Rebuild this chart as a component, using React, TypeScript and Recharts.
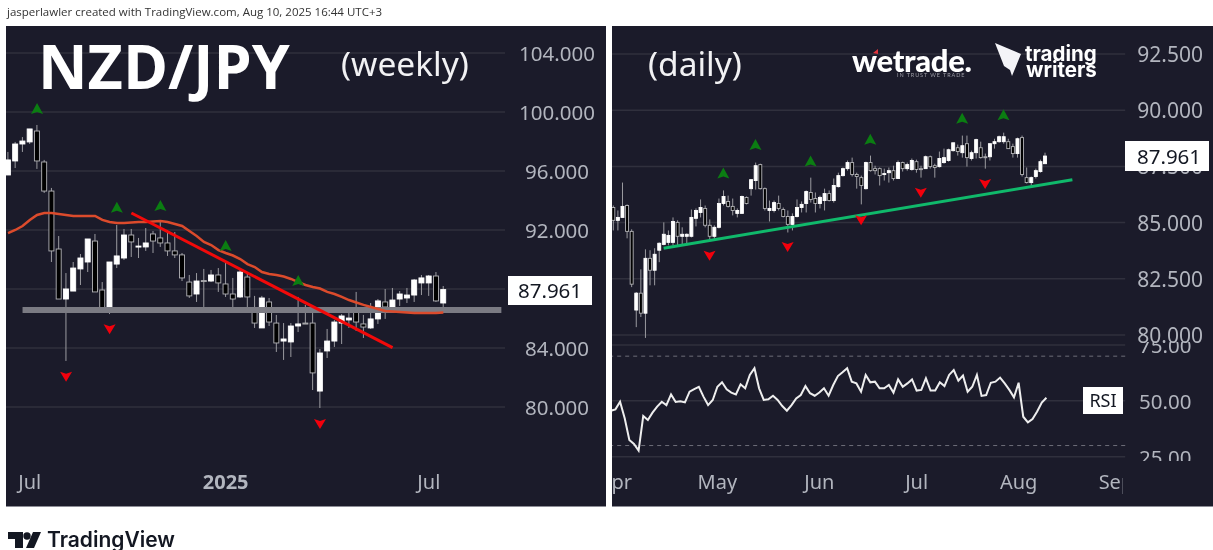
import React from 'react';
import { ComposedChart, Bar, Line, XAxis, YAxis, CartesianGrid, ReferenceLine } from 'recharts';

// weekly NZD/JPY candles
const weeklyOpen = [95.73,96.68,97.83,97.97,98.71,96.61,94.64,90.71,87.32,87.86,89.36,89.83,91.25,87.93,86.71,89.69,90.10,91.66,90.85,90.85,91.73,91.46,91.12,90.58,90.31,88.47,87.66,88.57,88.54,88.95,88.34,87.66,87.46,88.81,86.44,85.36,87.12,85.69,84.47,84.41,85.49,85.69,85.69,81.08,83.80,84.47,85.69,85.90,86.64,85.63,85.36,85.97,87.12,86.64,87.32,87.39,87.59,88.41,88.41,88.88,87.05];
const weeklyHigh = [97.29,97.97,98.30,98.85,99.12,96.75,94.85,91.59,89.08,89.83,90.37,91.39,91.73,88.47,89.83,92.34,92.07,92.07,91.46,92.13,91.93,92.54,92.00,91.86,90.44,88.95,89.08,89.36,89.29,89.42,89.76,88.75,89.42,89.08,87.53,87.53,87.39,86.24,85.69,85.69,87.46,86.92,86.85,83.93,85.29,85.90,86.30,86.37,87.80,86.24,87.05,87.32,88.00,88.07,87.86,88.07,88.68,88.95,88.95,89.15,88.20];
const weeklyLow = [95.73,96.20,97.29,97.83,96.14,94.51,89.83,87.32,83.12,87.86,88.27,89.15,87.80,86.37,86.30,89.42,89.97,90.17,90.10,90.58,90.44,90.85,90.24,90.10,88.54,87.39,87.12,86.78,88.47,87.80,87.46,86.71,87.39,86.71,85.36,85.36,85.49,83.73,83.19,83.39,85.08,85.63,81.15,79.93,83.32,84.07,84.27,85.36,85.15,84.68,85.29,85.63,85.97,86.58,86.85,87.05,87.12,87.59,87.53,87.12,86.71];
const weeklyClose = [96.75,97.83,98.03,98.85,96.68,94.64,90.58,87.32,88.00,89.42,90.10,91.39,87.80,86.71,89.83,90.24,91.66,91.19,90.91,91.12,91.25,91.12,90.58,90.31,88.75,87.53,88.54,88.54,88.95,88.41,87.66,87.32,89.15,87.46,85.69,87.39,85.76,84.34,84.61,85.49,85.63,85.66,82.31,83.66,84.47,85.76,86.17,86.03,85.76,85.42,85.97,87.19,86.78,87.25,87.66,87.59,88.61,88.75,88.88,87.19,87.96];
const weeklyAverage = [91.79,92.00,92.27,92.68,93.02,93.15,93.15,93.08,93.02,92.95,92.95,92.95,92.95,92.68,92.54,92.47,92.47,92.50,92.54,92.54,92.57,92.61,92.54,92.41,92.27,91.93,91.59,91.19,90.98,90.64,90.44,90.27,90.03,89.69,89.49,89.15,89.02,88.95,88.85,88.68,88.47,88.27,88.14,88.03,87.80,87.66,87.46,87.25,87.08,86.92,86.78,86.64,86.51,86.47,86.44,86.41,86.37,86.37,86.37,86.37,86.41];
const weeklyPeaks = [[4,100.2],[15,93.51],[21,93.63],[30,90.91],[40,88.54]];
const weeklyTroughs = [[8,82.05],[14,85.27],[43,78.85]];
const weeklySupport = [[2,86.57],[68,86.57]];
const weeklyTrend = [[17,93.15],[53,84.02]];
const weeklyTicks = [80,84,88,92,96,100,104];
const weeklyTickIdx = [3,30,58];
const weeklyTickText = ['Jul','2025','Jul'];

// daily candles
const dailyOpen = [85.67,85.10,85.23,85.76,84.61,81.11,81.86,80.97,83.41,82.88,83.77,84.03,84.12,84.12,85.01,84.39,84.39,84.39,85.19,85.45,85.63,84.88,84.39,84.79,85.85,85.94,85.72,85.41,85.41,86.12,86.51,86.87,87.58,86.51,85.54,85.54,85.85,85.58,85.27,84.92,85.27,85.67,85.85,86.34,86.07,85.85,85.98,86.29,85.98,86.60,87.09,87.40,87.67,87.14,87.00,86.51,87.67,87.40,87.40,87.14,87.22,87.31,86.96,87.67,87.40,87.36,87.71,87.40,87.40,87.93,87.53,87.49,87.67,87.76,88.20,88.33,88.11,88.51,87.85,88.11,88.33,87.93,87.93,88.51,88.60,88.60,88.60,88.38,88.07,88.78,87.00,86.78,87.05,87.27,87.62];
const dailyHigh = [85.76,85.54,86.78,85.81,84.70,81.91,82.92,83.81,83.77,83.86,84.12,85.01,84.65,85.23,85.10,84.79,84.52,85.58,85.63,86.03,85.76,85.14,84.88,86.07,86.43,86.20,86.07,85.63,86.20,86.16,86.91,87.67,87.62,86.56,85.98,85.98,86.20,85.67,85.54,85.41,86.03,85.94,86.43,87.00,86.34,86.20,86.51,86.43,86.96,87.22,87.45,87.76,87.89,87.22,87.09,87.71,87.98,87.53,87.45,87.40,87.45,87.53,87.76,87.71,87.67,87.85,87.80,87.53,87.98,87.98,87.62,88.16,88.29,88.29,88.55,88.47,88.87,88.87,88.20,88.73,88.60,88.07,88.51,88.73,88.87,89.00,88.73,88.51,88.78,88.87,87.45,87.05,87.40,87.80,88.11];
const dailyLow = [84.65,84.65,85.23,84.30,82.13,80.35,80.80,79.87,82.21,82.21,83.24,83.99,83.99,83.99,83.99,83.99,83.99,84.34,84.83,85.23,84.79,84.21,84.21,84.74,85.76,85.67,85.32,85.23,85.41,85.81,86.20,86.47,86.47,85.54,85.05,85.45,85.54,85.23,84.56,84.65,85.23,85.45,85.45,85.89,85.45,85.63,85.54,85.94,85.89,86.56,87.05,87.31,87.05,86.51,85.81,86.47,87.27,87.14,86.65,86.87,86.78,86.87,86.96,87.27,87.31,87.31,87.22,87.00,87.40,87.40,87.00,87.45,87.62,87.71,88.16,87.98,87.89,87.49,87.76,87.85,87.85,87.40,87.76,88.29,88.55,88.51,88.29,87.89,87.89,87.05,86.74,86.65,86.96,87.22,87.62];
const dailyClose = [85.10,85.23,85.72,84.61,82.26,81.86,80.97,83.41,82.88,83.59,84.08,84.48,84.43,85.05,84.39,84.48,84.48,85.23,85.54,85.67,84.88,84.39,84.79,85.85,86.16,85.72,85.54,85.54,86.16,85.85,86.91,87.53,86.51,85.63,85.63,85.89,85.63,85.27,84.92,85.27,85.67,85.81,86.38,86.03,85.85,86.12,86.29,85.98,86.65,87.09,87.40,87.67,87.14,87.05,86.65,87.67,87.31,87.31,87.09,87.18,87.31,86.96,87.67,87.40,87.58,87.76,87.36,87.36,87.93,87.49,87.45,87.85,87.89,88.24,88.55,88.16,88.42,87.89,88.11,88.69,87.89,87.89,88.51,88.60,88.82,88.82,88.29,88.07,88.73,87.14,86.78,87.00,87.31,87.71,87.96];
const dailyPeaks = [[24,87.18],[31,88.45],[43,87.72],[56,88.69],[76,89.62],[85,89.78]];
const dailyTroughs = [[21,83.52],[38,83.91],[54,85.10],[67,86.33],[81,86.72]];
const dailyTrend = [[11,83.86],[100,86.91]];
const dailyTicks = [80,82.5,85,87.5,90,92.5];
const dailyTickIdx = [1,23,45,66,88,109];
const dailyTickText = ['Apr','May','Jun','Jul','Aug','Sep'];

// RSI pane
const rsiValues = [45.6,46.2,49.6,42.2,32.5,30.7,27.7,43.2,41.4,44.7,47.4,49.6,48.1,52.9,49.5,49.8,49.3,54.1,55.3,56.3,51.9,48.1,50.4,56.3,58.3,55.2,53.7,52.9,57.4,55.6,61.6,64.6,55.6,50.4,50.7,52.3,50.4,47.7,45.6,48.1,51.1,52.6,56.6,53.4,52.3,53.7,55.6,52.3,57.1,61.1,62.8,64.6,58.6,57.8,54.1,61.6,58.3,58.6,55.6,55.6,57.1,53.7,59.6,56.3,57.8,59.6,54.6,54.9,60.1,54.6,54.6,58.3,56.6,61.6,63.8,59.0,61.3,54.1,56.3,61.6,52.2,52.6,58.1,58.6,60.4,57.8,54.9,51.6,58.1,42.9,40.4,41.9,45.2,49.2,51.4];
const rsiTicks = [25,50,75];
const rsiBands = [30,70];

const PANEL = '#1b1b2a';
const GRID = '#30303d';
const AXIS_TEXT = '#b2b5be';
const AXIS_FONT = '"Noto Sans", sans-serif';

const buildRows = (slots: number, o: number[], h: number[], l: number[], c: number[]) => {
  const rows: any[] = [];
  for (let i = 0; i < slots; i++) {
    rows.push(
      i < o.length
        ? { idx: i, open: o[i], high: h[i], low: l[i], close: c[i], range: [l[i], h[i]] }
        : { idx: i },
    );
  }
  return rows;
};

const addPoints = (rows: any[], field: string, points: number[][]) => {
  points.forEach(([i, v]) => {
    rows[i][field] = v;
  });
};

const weeklyRows = buildRows(69, weeklyOpen, weeklyHigh, weeklyLow, weeklyClose);
weeklyAverage.forEach((v, i) => {
  weeklyRows[i].average = v;
});
addPoints(weeklyRows, 'peak', weeklyPeaks);
addPoints(weeklyRows, 'trough', weeklyTroughs);
addPoints(weeklyRows, 'support', weeklySupport);
addPoints(weeklyRows, 'trend', weeklyTrend);

const dailyRows = buildRows(112, dailyOpen, dailyHigh, dailyLow, dailyClose);
addPoints(dailyRows, 'peak', dailyPeaks);
addPoints(dailyRows, 'trough', dailyTroughs);
addPoints(dailyRows, 'trend', dailyTrend);

const rsiRows = dailyRows.map((r, i) => ({ idx: r.idx, rsi: rsiValues[i] }));

const Candle = (props: any) => {
  const { x, y, width, height, payload } = props;
  if (payload.high == null) return null;
  const perUnit = height / (payload.high - payload.low);
  const up = payload.close >= payload.open;
  const top = y + (payload.high - Math.max(payload.open, payload.close)) * perUnit;
  const bodyHeight = Math.max(Math.abs(payload.open - payload.close) * perUnit, 1);
  const mid = x + width / 2;
  return (
    <g>
      <line x1={mid} x2={mid} y1={y} y2={y + height} stroke="#9b9ba0" strokeWidth={1} />
      <rect
        x={x}
        y={top}
        width={width}
        height={bodyHeight}
        fill={up ? '#ffffff' : '#000000'}
        stroke={up ? '#ffffff' : '#b4b4b8'}
        strokeWidth={0.9}
      />
    </g>
  );
};

const PeakMark = (props: any) => {
  const { cx, cy, index } = props;
  if (cy == null) return <g key={index} />;
  return (
    <path
      key={index}
      d={`M${cx} ${cy - 6}L${cx + 6} ${cy + 5}L${cx} ${cy + 3}L${cx - 6} ${cy + 5}Z`}
      fill="#0b7d12"
    />
  );
};

const TroughMark = (props: any) => {
  const { cx, cy, index } = props;
  if (cy == null) return <g key={index} />;
  return (
    <path
      key={index}
      d={`M${cx} ${cy + 5}L${cx + 6} ${cy - 5}L${cx} ${cy - 3}L${cx - 6} ${cy - 5}Z`}
      fill="#f2000c"
    />
  );
};

const priceTick = (offset: number, digits: number, size: number) => (props: any) => {
  const { x, y, payload } = props;
  return (
    <text
      x={x + offset}
      y={y}
      textAnchor="middle"
      dominantBaseline="central"
      fontSize={size}
      fontFamily={AXIS_FONT}
      fill={AXIS_TEXT}
    >
      {payload.value.toFixed(digits)}
    </text>
  );
};

const timeTick = (idx: number[], text: string[]) => (props: any) => {
  const { x, y, payload } = props;
  const label = text[idx.indexOf(payload.value)];
  return (
    <text
      x={x}
      y={y + 11}
      textAnchor="middle"
      dominantBaseline="central"
      fontSize={20}
      fontWeight={label === '2025' ? 700 : 400}
      fontFamily={AXIS_FONT}
      fill={AXIS_TEXT}
    >
      {label}
    </text>
  );
};

const lineOnly = { isAnimationActive: false, connectNulls: true, dot: false, activeDot: false, legendType: 'none' as const };
const marksOnly = { isAnimationActive: false, stroke: 'none', activeDot: false, legendType: 'none' as const };

const box = (left: number, top: number, width: number, height: number, extra: any = {}) => ({
  position: 'absolute' as const,
  left,
  top,
  width,
  height,
  ...extra,
});

const PriceTag = ({ left, top, width, height, text, fontSize = 20.5, pad = 0 }: any) => (
  <div
    style={box(left, top, width, height, {
      background: '#fff',
      color: '#131722',
      fontFamily: AXIS_FONT,
      fontSize,
      lineHeight: `${height}px`,
      textAlign: 'center',
      paddingLeft: pad,
      boxSizing: 'border-box',
    })}
  >
    {text}
  </div>
);

function WeeklyPanel() {
  return (
    <div style={box(6, 26, 600, 481, { background: PANEL, overflow: 'hidden', borderBottom: '1px solid #8d8d96', boxSizing: 'border-box' })}>
      <div style={box(-6, -26, 606, 507)}>
        <ComposedChart width={606} height={507} data={weeklyRows} margin={{ top: 26, right: 0, bottom: 0, left: 4.4 }}>
          <CartesianGrid vertical={false} stroke={GRID} strokeWidth={1.5} syncWithTicks horizontalValues={weeklyTicks} />
          <XAxis
            dataKey="idx"
            height={45}
            ticks={weeklyTickIdx}
            interval={0}
            axisLine={false}
            tickLine={false}
            tick={timeTick(weeklyTickIdx, weeklyTickText)}
          />
          <YAxis
            orientation="right"
            width={101}
            domain={[76.27, 105.83]}
            ticks={weeklyTicks}
            interval={0}
            axisLine={false}
            tickLine={false}
            tick={priceTick(44, 3, 20.5)}
          />
          <Line dataKey="support" stroke="#7b7b83" strokeWidth={6} {...lineOnly} />
          <Bar dataKey="range" barSize={5} shape={Candle} isAnimationActive={false} />
          <Line dataKey="average" stroke="#dc4b2c" strokeWidth={2.5} {...lineOnly} />
          <Line dataKey="trend" stroke="#f20a0a" strokeWidth={3} {...lineOnly} />
          <Line dataKey="peak" dot={PeakMark} {...marksOnly} />
          <Line dataKey="trough" dot={TroughMark} {...marksOnly} />
        </ComposedChart>
      </div>
    </div>
  );
}

function DailyPanel() {
  return (
    <>
      <div style={box(612, 26, 601, 481, { background: PANEL, borderBottom: '1px solid #8d8d96', boxSizing: 'border-box' })} />
      <div style={box(612, 26, 601, 319, { overflow: 'hidden' })}>
        <div style={box(-12, -26, 613, 345)}>
          <ComposedChart width={613} height={345} data={dailyRows} margin={{ top: 26, right: 0, bottom: 0, left: 10.8 }}>
            <CartesianGrid vertical={false} stroke={GRID} strokeWidth={1.5} syncWithTicks horizontalValues={dailyTicks} />
            <XAxis dataKey="idx" hide />
            <YAxis
              orientation="right"
              width={87.8}
              domain={[79.555, 93.745]}
              ticks={dailyTicks}
              interval={0}
              axisLine={false}
              tickLine={false}
              tick={priceTick(37, 3, 21)}
            />
            <Bar dataKey="range" barSize={3} shape={Candle} isAnimationActive={false} />
            <Line dataKey="trend" stroke="#10b96b" strokeWidth={3} {...lineOnly} />
            <Line dataKey="peak" dot={PeakMark} {...marksOnly} />
            <Line dataKey="trough" dot={TroughMark} {...marksOnly} />
          </ComposedChart>
        </div>
      </div>
      <div style={box(612, 342, 601, 119, { overflow: 'hidden' })}>
        <div style={box(-12, 0, 613, 119)}>
          <ComposedChart width={613} height={119} data={rsiRows} margin={{ top: 0, right: 0, bottom: 0, left: 10.8 }}>
            <CartesianGrid vertical={false} stroke={GRID} strokeWidth={1.5} syncWithTicks horizontalValues={rsiTicks} />
            <XAxis dataKey="idx" hide />
            <YAxis
              orientation="right"
              width={87.8}
              domain={[23.08, 76.34]}
              ticks={rsiTicks}
              interval={0}
              axisLine={false}
              tickLine={false}
              tick={priceTick(32, 2, 20.5)}
            />
            {rsiBands.map((b) => (
              <ReferenceLine key={b} y={b} stroke="#6e6e78" strokeDasharray="4 4" />
            ))}
            <Line dataKey="rsi" stroke="#eeeeee" strokeWidth={2} dot={false} activeDot={false} isAnimationActive={false} />
          </ComposedChart>
        </div>
      </div>
      <div style={box(612, 461, 511, 45, { overflow: 'hidden' })}>
        <div style={box(-12, 0, 613, 46)}>
          <ComposedChart width={613} height={46} data={rsiRows} margin={{ top: 0, right: 87.8, bottom: 0, left: 10.8 }}>
            <XAxis
              dataKey="idx"
              height={45}
              ticks={dailyTickIdx}
              interval={0}
              axisLine={false}
              tickLine={false}
              tick={timeTick(dailyTickIdx, dailyTickText)}
            />
            <Line dataKey="rsi" stroke="none" dot={false} activeDot={false} isAnimationActive={false} />
          </ComposedChart>
        </div>
      </div>
    </>
  );
}

function Overlays() {
  const white = { color: '#ffffff', whiteSpace: 'nowrap' as const };
  const regular = { ...white, fontFamily: '"Noto Sans", sans-serif', fontSize: 33.5, lineHeight: '40px', color: '#f2f2f4' };
  return (
    <>
      <div style={box(7, 4, 500, 16, { fontFamily: '"Open Sans", sans-serif', fontSize: 11.5, lineHeight: '16px', color: '#333', whiteSpace: 'nowrap' })}>
        jasperlawler created with TradingView.com, Aug 10, 2025 16:44 UTC+3
      </div>
      <div style={box(38, 27, 260, 78, { ...white, fontFamily: '"Open Sans", sans-serif', fontWeight: 700, fontSize: 61, lineHeight: '78px' })}>
        NZD/JPY
      </div>
      <div style={box(341, 43, 140, 40, regular)}>(weekly)</div>
      <div style={box(648, 43, 110, 40, regular)}>(daily)</div>
      <div style={box(852, 43, 125, 34, { ...white, fontFamily: 'Lato, sans-serif', fontWeight: 900, fontSize: 31, lineHeight: '34px', letterSpacing: -0.3 })}>
        wetrade.
      </div>
      <svg style={box(872, 48, 8, 8)} width={8} height={8}>
        <path d="M1 5L6 1L6 6Z" fill="#e2343c" />
      </svg>
      <div style={box(897, 71, 80, 8, { fontFamily: 'Lato, sans-serif', fontSize: 5.5, lineHeight: '8px', letterSpacing: 0.9, color: '#9c9ca6', whiteSpace: 'nowrap' })}>
        IN TRUST WE TRADE
      </div>
      <svg style={box(990, 40, 36, 40)} width={36} height={40}>
        <path d="M5 3L31 14L22 36L20 30L14 26Z" fill="#f4f4f8" />
      </svg>
      <div style={box(1025, 45, 80, 17, { ...white, fontFamily: 'Inter, sans-serif', fontWeight: 700, fontSize: 20.5, lineHeight: '17px' })}>trading</div>
      <div style={box(1026, 61, 80, 17, { ...white, fontFamily: 'Inter, sans-serif', fontWeight: 700, fontSize: 20.5, lineHeight: '17px' })}>writers</div>
      <PriceTag left={508} top={276} width={84} height={29} text="87.961" />
      <PriceTag left={1125} top={141} width={84} height={30} text="87.961" pad={4} />
      <PriceTag left={1083} top={387} width={40} height={27} text="RSI" fontSize={18} />
      <svg style={box(6, 528, 38, 22)} width={38} height={22}>
        <path d="M2 4H17V20H9V11H2Z" fill="#131722" />
        <circle cx={21} cy={8} r={3.7} fill="#131722" />
        <path d="M27 4H35L28 20H20Z" fill="#131722" />
      </svg>
      <div style={box(47, 527, 135, 24, { fontFamily: 'Inter, sans-serif', fontWeight: 600, fontSize: 21, lineHeight: '26px', color: '#131722', whiteSpace: 'nowrap' })}>
        TradingView
      </div>
    </>
  );
}

export default function App() {
  return (
    <div style={box(0, 0, 1213, 550, { background: '#fff', overflow: 'hidden', filter: 'blur(0.45px)' })}>
      <WeeklyPanel />
      <DailyPanel />
      <Overlays />
    </div>
  );
}
